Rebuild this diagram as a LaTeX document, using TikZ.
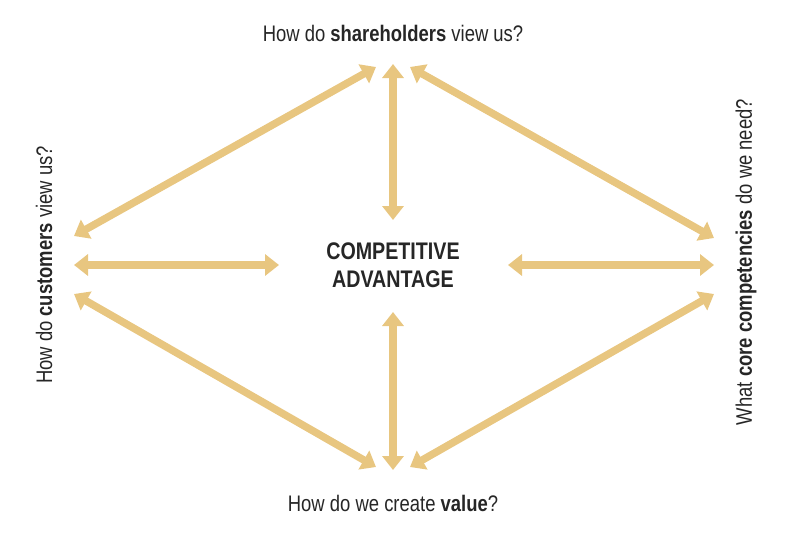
\documentclass[tikz,border=0pt]{standalone}
\usepackage{fontspec}
\setmainfont{Liberation Sans}[FakeStretch=0.82]
\usetikzlibrary{arrows.meta}
\definecolor{tan}{HTML}{E8C680}
\tikzset{arr/.style={line width=7.5pt,draw=tan,{Triangle[width=21pt,length=14pt]}-{Triangle[width=21pt,length=14pt]}},
lbl/.style={font=\fontsize{22.5}{26}\selectfont,text=black!85}}
\begin{document}
\begin{tikzpicture}[x=1pt,y=-1pt]
\useasboundingbox (0,0) rectangle (800,544);
\node[lbl] (top) at (393,33) {How do \textbf{shareholders} view us?};
\node[lbl] (bot) at (393,503) {How do we create \textbf{value}?};
\node[lbl,rotate=90] (left) at (44,265) {How do \textbf{customers} view us?};
\node[lbl,rotate=90] (right) at (746,262) {What \textbf{core competencies} do we need?};
\node[lbl,font=\fontsize{24}{28}\selectfont\bfseries,align=center] (c) at (393,265) {COMPETITIVE\\ADVANTAGE};
\coordinate (t) at (393,64); \coordinate (tl) at (376,67); \coordinate (tr) at (410,67);
\coordinate (b) at (393,470); \coordinate (bl) at (376,467); \coordinate (br) at (410,467);
\coordinate (la) at (74,236); \coordinate (lm) at (74,265); \coordinate (lb) at (74,294);
\coordinate (ra) at (714,238); \coordinate (rm) at (714,265); \coordinate (rb) at (714,294);
\coordinate (ct) at (393,220); \coordinate (cb) at (393,312);
\coordinate (cl) at (279,265); \coordinate (cr) at (508,265);
\draw[arr] (tl) -- (la);
\draw[arr] (tr) -- (ra);
\draw[arr] (lb) -- (bl);
\draw[arr] (rb) -- (br);
\draw[arr] (t) -- (ct);
\draw[arr] (cb) -- (b);
\draw[arr] (lm) -- (cl);
\draw[arr] (cr) -- (rm);
\end{tikzpicture}
\end{document}
